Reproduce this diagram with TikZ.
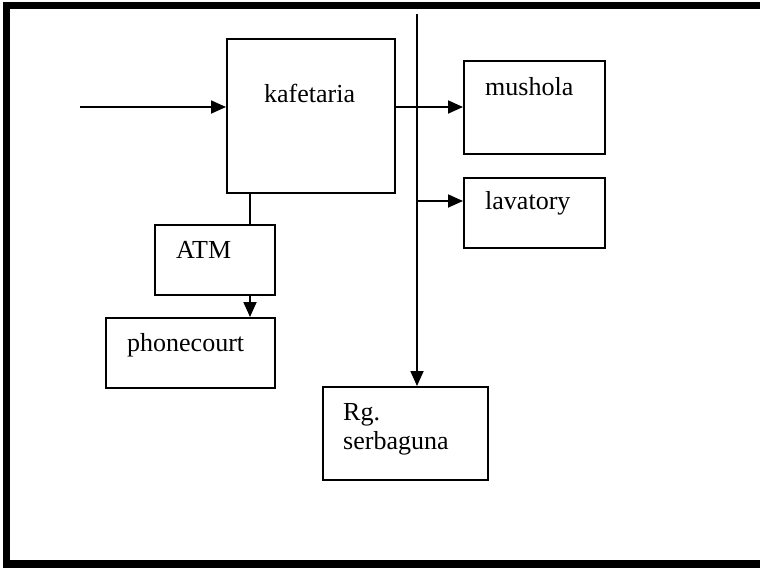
\documentclass[tikz,border=0pt]{standalone}
\usepackage{fontspec}
\setmainfont{Liberation Serif}
\usetikzlibrary{arrows.meta}

\begin{document}
\begin{tikzpicture}[x=1pt,y=-1pt,
  room/.style={draw,line width=1.8pt,inner sep=0pt,anchor=north west},
  lbl/.style={inner sep=0pt,anchor=west,font=\fontsize{26}{30}\selectfont},
  link/.style={line width=1.8pt},
  flow/.style={line width=1.8pt,-{Triangle[length=15pt,width=13pt]}},
  frame/.style={line width=7.5pt}]

  % page area
  \useasboundingbox (0,0) rectangle (760,568);
  \fill[white] (0,0) rectangle (760,568);

  % outer frame (top, left, bottom)
  \coordinate (fTR) at (760,5.5);
  \coordinate (fTL) at (6.5,5.5);
  \coordinate (fBL) at (6.5,564);
  \coordinate (fBR) at (760,564);
  \draw[frame] (fTR) -- (fTL) -- (fBL) -- (fBR);

  % rooms
  \node[room,minimum width=168pt,minimum height=154pt] (kaf) at (226,38) {};
  \node[room,minimum width=141pt,minimum height=93pt]  (mus) at (463,60) {};
  \node[room,minimum width=141pt,minimum height=70pt]  (lav) at (463,177) {};
  \node[room,minimum width=120pt,minimum height=70pt]  (atm) at (154,224) {};
  \node[room,minimum width=169pt,minimum height=70pt]  (phc) at (105,317) {};
  \node[room,minimum width=165pt,minimum height=93pt]  (rgs) at (322,386) {};

  % labels
  \node[lbl] (tkaf) at (264,93) {kafetaria};
  \node[lbl] (tmus) at (485,87) {mushola};
  \node[lbl] (tlav) at (485,203) {lavatory};
  \node[lbl] (tatm) at (176,250) {ATM};
  \node[lbl] (tphc) at (127,345) {phonecourt};
  \node[lbl] (trg1) at (343,415) {Rg.};
  \node[lbl] (trg2) at (343,443) {serbaguna};

  % corridor and connections
  \coordinate (entry) at (80,107);
  \coordinate (ctop) at (417,14);
  \coordinate (cmid) at (417,201);
  \draw[flow] (entry) -- (kaf.west |- entry);
  \draw[flow] (kaf.east |- entry) -- (mus.west |- entry);
  \draw[link] (ctop) -- (cmid);
  \draw[flow] (cmid) -- (rgs.north -| ctop);
  \draw[flow] (cmid) -- (lav.west |- cmid);
  \coordinate (kdrop) at (250,192);
  \draw[link] (kdrop) -- (atm.north -| kdrop);
  \draw[flow] (atm.south -| kdrop) -- (phc.north -| kdrop);
\end{tikzpicture}
\end{document}
